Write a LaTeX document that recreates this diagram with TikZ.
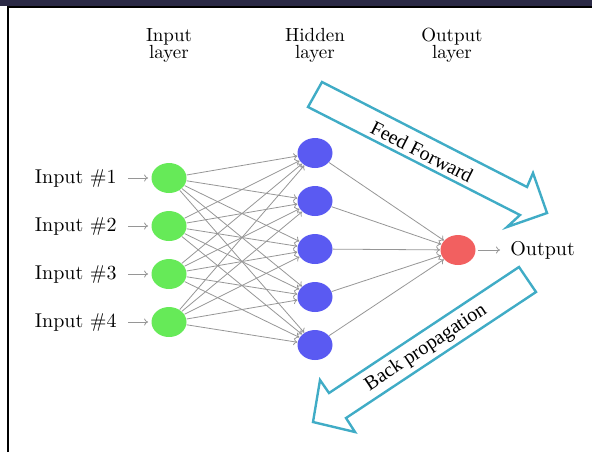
\documentclass[tikz,border=0pt]{standalone}
\usepackage{fontspec}
\newfontfamily\timesfont{Liberation Serif}
\usetikzlibrary{shapes.geometric,arrows.meta}
\definecolor{ngreen}{RGB}{102,234,88}
\definecolor{nblue}{RGB}{90,90,242}
\definecolor{nred}{RGB}{242,96,96}
\definecolor{tealc}{RGB}{64,172,198}
\definecolor{bandc}{RGB}{43,42,70}
\definecolor{conncol}{RGB}{150,150,150}
\begin{document}
\begin{tikzpicture}[x=0.5pt,y=-0.5pt,
  neuron/.style={ellipse, minimum width=17.5pt, minimum height=15pt, inner sep=0pt},
  conn/.style={draw=conncol, line width=0.4pt, -{To[length=2pt,width=3.5pt]}},
  lbl/.style={inner sep=0pt, font=\fontsize{10}{12}\selectfont},
  hdr/.style={align=center, inner sep=0pt, font=\fontsize{9.5}{8.6}\selectfont},
  bigarrow/.style={draw=tealc, line width=1.2pt, line join=miter},
  arrowtext/.style={font=\timesfont\fontsize{10}{12}\selectfont, inner sep=0pt}]
\useasboundingbox (0,0) rectangle (592,452);
\fill[bandc] (0,0) rectangle (592,5.5);
\draw[line width=1pt] (7.5,452) -- (7.5,6.5) -- (592,6.5);

% headers
\node[hdr] (h1) at (169,45.6) {Input\\layer};
\node[hdr] (h2) at (315,45.6) {Hidden\\layer};
\node[hdr] (h3) at (452,45.6) {Output\\layer};

% input layer
\foreach \i/\y in {1/178,2/226,3/274,4/322} {
  \node[neuron, fill=ngreen] (in\i) at (169,\y) {};
  \node[lbl, anchor=east] (lab\i) at (117,\y) {Input \#\i};
}
% hidden layer
\foreach \j/\y in {1/153,2/201,3/249,4/297,5/345} {
  \node[neuron, fill=nblue] (hid\j) at (315,\y) {};
}
% output
\node[neuron, fill=nred] (out) at (458,250) {};
\node[lbl, anchor=west] (outlab) at (510,250) {Output};

% connectors
\foreach \i in {1,...,4} {
  \draw[conn, shorten <=5.5pt, shorten >=1.5pt] (lab\i) -- (in\i);
  \foreach \j in {1,...,5} {
    \draw[conn] (in\i) -- (hid\j);
  }
}
\foreach \j in {1,...,5} {
  \draw[conn] (hid\j) -- (out);
}
\draw[conn, shorten <=1pt, shorten >=5pt] (out) -- (outlab);

% big arrows
\draw[bigarrow] (322,82) -- (527,187) -- (533,173) -- (547,213) -- (507,227) -- (520,215) -- (308,107) -- cycle;
\node[arrowtext, rotate=-27] (ff) at (422,152) {Feed Forward};
\draw[bigarrow] (519,267) -- (536,292) -- (346,418) -- (355,432) -- (313,422) -- (320,380) -- (329,393) -- cycle;
\node[arrowtext, rotate=33.6] (bp) at (426,348) {Back propagation};
\end{tikzpicture}
\end{document}
